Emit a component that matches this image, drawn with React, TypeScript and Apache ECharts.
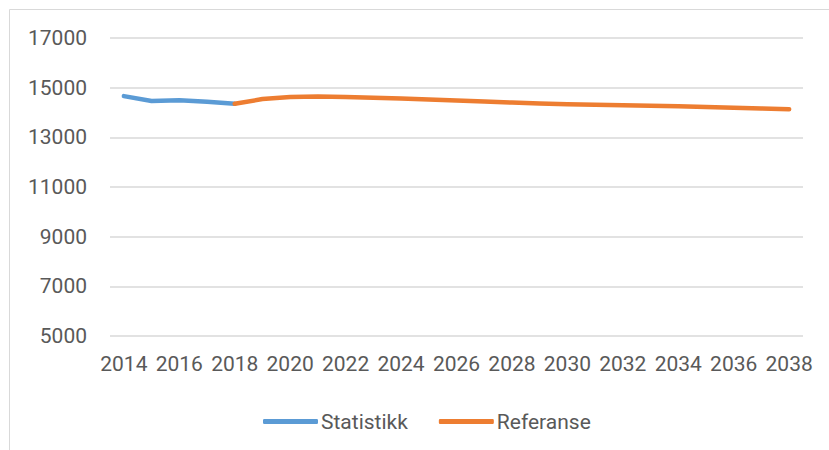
import React, { useEffect, useRef } from "react";
import * as echarts from "echarts";

const years: string[] = [];
for (let y = 2014; y <= 2038; y++) years.push(String(y));

const statistikk: (number | null)[] = [14660, 14460, 14490, 14430, 14350];
const referanse: (number | null)[] = [
  14350, 14540, 14620, 14640, 14620, 14590, 14560, 14520, 14480, 14440, 14400,
  14360, 14330, 14310, 14290, 14270, 14250, 14220, 14195, 14165, 14135,
];

const statSeries = years.map((_, i) => (i < statistikk.length ? statistikk[i] : null));
const refOffset = 4;
const refSeries = years.map((_, i) => (i >= refOffset ? referanse[i - refOffset] : null));

const textColor = "#595959";
const fontFamily = "Roboto, 'Liberation Sans', sans-serif";

export default function App() {
  const ref = useRef<HTMLDivElement>(null);
  useEffect(() => {
    document.body.style.margin = "0";
    if (!ref.current) return;
    const chart = echarts.init(ref.current, null, { renderer: "svg" });
    chart.setOption({
      animation: false,
      backgroundColor: "#ffffff",
      textStyle: { fontFamily },
      graphic: [
        {
          type: "rect",
          shape: { x: 9.5, y: 9.5, width: 900, height: 500 },
          style: { fill: "none", stroke: "#d9d9d9", lineWidth: 1 },
          silent: true,
        },
      ],
      grid: { left: 110, right: 26, top: 38, bottom: 114 },
      legend: {
        left: 258,
        top: 406,
        itemWidth: 55,
        itemHeight: 5,
        itemGap: 31,
        icon: "roundRect",
        textStyle: { color: textColor, fontSize: 21, fontFamily, padding: [0, 0, 0, -2] },
        data: ["Statistikk", "Referanse"],
      },
      xAxis: {
        type: "category",
        data: years,
        boundaryGap: true,
        axisLine: { show: false },
        axisTick: { show: false },
        axisLabel: { interval: 1, color: textColor, fontSize: 21, fontFamily, margin: 17 },
      },
      yAxis: {
        type: "value",
        min: 5000,
        max: 17000,
        interval: 2000,
        axisLine: { show: false },
        axisTick: { show: false },
        axisLabel: {
          color: textColor,
          fontSize: 21,
          fontFamily,
          margin: 23,
          formatter: (v: number) => String(v),
        },
        splitLine: { lineStyle: { color: "#d9d9d9", width: 1.5 } },
      },
      series: [
        {
          name: "Statistikk",
          type: "line",
          data: statSeries,
          symbol: "none",
          color: "#5B9BD5",
          lineStyle: { width: 4.5, cap: "round", join: "round" },
        },
        {
          name: "Referanse",
          type: "line",
          data: refSeries,
          symbol: "none",
          color: "#ED7D31",
          lineStyle: { width: 4.5, cap: "round", join: "round" },
        },
      ],
    });
    return () => chart.dispose();
  }, []);
  return <div ref={ref} style={{ width: 829, height: 450 }} />;
}
